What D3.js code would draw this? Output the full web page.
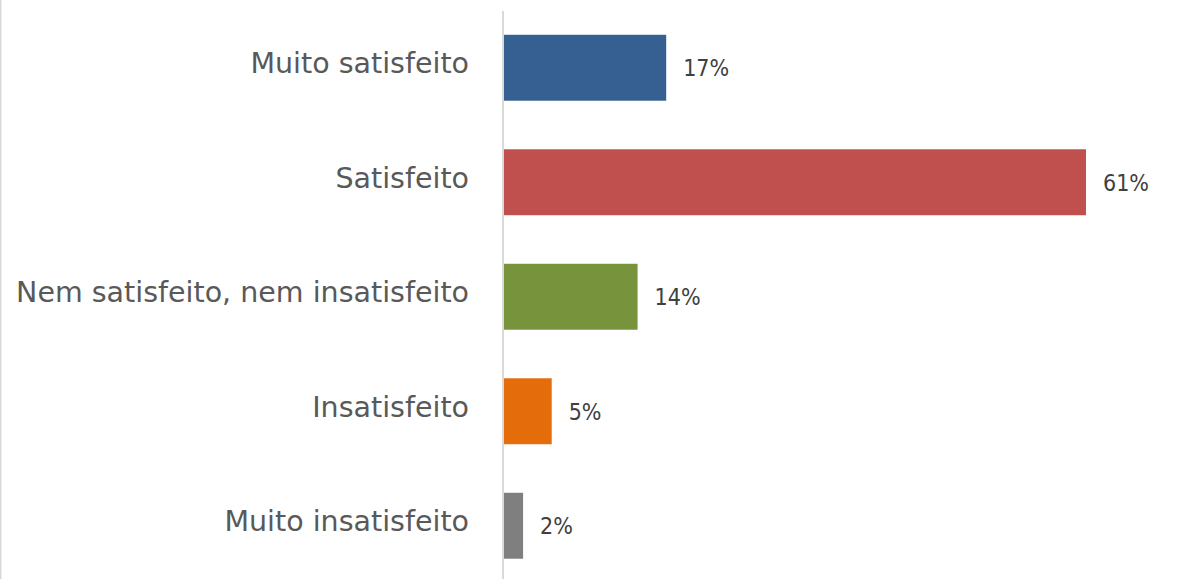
<!DOCTYPE html>
<html>
<head>
  <meta charset="UTF-8">
  <title></title>
  <style>
    body {
      margin: 0;
      background-color: #fff;
      font-family: 'DejaVu Sans', sans-serif;
    }
    .cat { fill: #595959; font-size: 28.5px; }
    .val { fill: #404040; font-size: 23px; font-family: 'DejaVu Sans Condensed', 'DejaVu Sans', sans-serif; font-stretch: condensed; }
  </style>
</head>
<body>
  <div id="container"></div>
  <script src="https://d3js.org/d3.v7.min.js"></script>
  <script>
    var categories = ["Muito satisfeito", "Satisfeito", "Nem satisfeito, nem insatisfeito", "Insatisfeito", "Muito insatisfeito"];
    var values = [17, 61, 14, 5, 2];
    var colors = ["#366092", "#c0504d", "#77933c", "#e46c0a", "#7f7f7f"];

    var width = 1184, height = 579;

    var svg = d3.select("#container").append("svg")
      .attr("width", width)
      .attr("height", height);

    // light frame line on the left edge
    svg.append("line")
      .attr("x1", 0.5).attr("x2", 0.5)
      .attr("y1", 0).attr("y2", height)
      .attr("stroke", "#d9d9d9").attr("stroke-width", 2);

    var x = d3.scaleLinear().domain([0, 61]).range([504, 1086]);
    var y = d3.scaleBand().domain(categories).range([10.5, 583]).paddingInner(0.424).paddingOuter(0.212);

    // bars
    svg.selectAll("rect.bar")
      .data(values)
      .enter().append("rect")
        .attr("class", "bar")
        .attr("x", x(0))
        .attr("y", function(d, i) { return y(categories[i]); })
        .attr("width", function(d) { return x(d) - x(0); })
        .attr("height", y.bandwidth())
        .attr("fill", function(d, i) { return colors[i]; });

    // vertical axis line
    svg.append("line")
      .attr("x1", 503).attr("x2", 503)
      .attr("y1", 11).attr("y2", height)
      .attr("stroke", "#d9d9d9").attr("stroke-width", 2);

    // category labels
    svg.selectAll("text.cat")
      .data(categories)
      .enter().append("text")
        .attr("class", "cat")
        .attr("x", 469)
        .attr("y", function(d) { return y(d) + y.bandwidth() / 2 + 5.5; })
        .attr("text-anchor", "end")
        .text(function(d) { return d; });

    // value labels
    svg.selectAll("text.val")
      .data(values)
      .enter().append("text")
        .attr("class", "val")
        .attr("x", function(d) { return x(d) + 17; })
        .attr("y", function(d, i) { return y(categories[i]) + y.bandwidth() / 2 + 8.5; })
        .text(function(d) { return d + "%"; });
  </script>
</body>
</html>
